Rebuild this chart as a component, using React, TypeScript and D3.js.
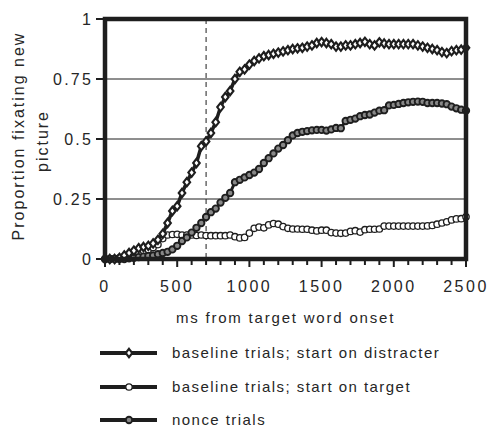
import React from "react";
import * as d3 from "d3";

const STEP = 2500 / 75;
const distracter = [
  0, 0, 0, 0.005, 0.015, 0.025, 0.035, 0.045, 0.05, 0.055, 0.065, 0.08, 0.105, 0.15, 0.2, 0.22,
  0.275, 0.32, 0.36, 0.4, 0.47, 0.49, 0.525, 0.57, 0.633, 0.675, 0.7, 0.75, 0.78, 0.79, 0.81,
  0.825, 0.836, 0.845, 0.85, 0.855, 0.86, 0.865, 0.87, 0.875, 0.878, 0.88, 0.885, 0.89, 0.9,
  0.904, 0.9, 0.895, 0.885, 0.885, 0.89, 0.89, 0.895, 0.9, 0.905, 0.895, 0.89, 0.903, 0.898,
  0.895, 0.895, 0.895, 0.895, 0.895, 0.895, 0.89, 0.885, 0.88, 0.875, 0.87, 0.862, 0.858,
  0.866, 0.87, 0.872, 0.88,
];
const target = [
  0, 0, 0.002, 0.005, 0.01, 0.015, 0.02, 0.028, 0.035, 0.04, 0.048, 0.06, 0.085, 0.1, 0.102,
  0.103, 0.1, 0.1, 0.1, 0.098, 0.1, 0.098, 0.097, 0.097, 0.097, 0.097, 0.1, 0.093, 0.088, 0.09,
  0.108, 0.128, 0.133, 0.13, 0.142, 0.148, 0.145, 0.135, 0.128, 0.125, 0.125, 0.124, 0.124,
  0.12, 0.117, 0.12, 0.12, 0.11, 0.108, 0.107, 0.108, 0.115, 0.118, 0.112, 0.122, 0.124, 0.124,
  0.125, 0.137, 0.137, 0.137, 0.137, 0.137, 0.137, 0.137, 0.137, 0.137, 0.138, 0.14, 0.145,
  0.15, 0.155, 0.163, 0.167, 0.168, 0.176,
];
const nonce = [
  0, 0, 0, 0, 0, 0.003, 0.005, 0.008, 0.01, 0.012, 0.015, 0.02, 0.025, 0.03, 0.04, 0.055, 0.075,
  0.09, 0.11, 0.13, 0.15, 0.175, 0.195, 0.21, 0.235, 0.255, 0.275, 0.32, 0.33, 0.34, 0.35, 0.36,
  0.375, 0.4, 0.42, 0.44, 0.46, 0.475, 0.495, 0.515, 0.525, 0.53, 0.533, 0.536, 0.538, 0.538,
  0.535, 0.54, 0.546, 0.545, 0.575, 0.58, 0.585, 0.595, 0.6, 0.602, 0.61, 0.618, 0.62, 0.64,
  0.642, 0.646, 0.65, 0.653, 0.655, 0.656, 0.655, 0.65, 0.65, 0.65, 0.648, 0.645, 0.635, 0.628,
  0.622, 0.618,
];
const xTicks = [0, 500, 1000, 1500, 2000, 2500];
const yTicks = [0, 0.25, 0.5, 0.75, 1];
const yTickLabels = ["0", "0.25", "0.5", "0.75", "1"];
const gridValues = [0.25, 0.5, 0.75];
const onsetMarker = 700;
const legendLabels = [
  "baseline trials; start on distracter",
  "baseline trials; start on target",
  "nonce trials",
];

const FONT = "'Liberation Sans', Arial, Helvetica, sans-serif";
const INK = "#1e1e1e";
const TXT = "#262626";

type Kind = "diamond" | "open" | "gray";

function Marker({ x, y, kind }: { x: number; y: number; kind: Kind }) {
  if (kind === "diamond") {
    const w = 3.3, h = 4.2;
    return (
      <path
        d={`M${x},${y - h}L${x + w},${y}L${x},${y + h}L${x - w},${y}Z`}
        fill="#fff"
        stroke={INK}
        strokeWidth={2.1}
      />
    );
  }
  return (
    <circle
      cx={x}
      cy={y}
      r={3.2}
      fill={kind === "open" ? "#fff" : "#888"}
      stroke={INK}
      strokeWidth={kind === "open" ? 1.3 : 1.9}
    />
  );
}

export default function App() {
  const W = 489, H = 428;
  const x = d3.scaleLinear().domain([0, 2500]).range([105, 466]);
  const y = d3.scaleLinear().domain([0, 1]).range([259, 19]);
  const minorTicks = d3.range(0, 2501, 100);

  const series: { vals: number[]; kind: Kind; lw: number }[] = [
    { vals: target, kind: "open", lw: 2 },
    { vals: nonce, kind: "gray", lw: 3 },
    { vals: distracter, kind: "diamond", lw: 3.5 },
  ];
  const line = d3
    .line<number>()
    .x((_, i) => x(i * STEP))
    .y((v) => y(v));

  const legendKinds: Kind[] = ["diamond", "open", "gray"];
  const legendY = [353, 387, 420];

  return (
    <svg
      width={W}
      height={H}
      style={{ position: "absolute", left: 0, top: 0, background: "#fff" }}
      fontFamily={FONT}
    >
      {gridValues.map((g) => (
        <line key={g} x1={x(0)} x2={x(2500)} y1={y(g)} y2={y(g)} stroke={INK} strokeWidth={1} />
      ))}
      <line
        x1={x(onsetMarker)}
        x2={x(onsetMarker)}
        y1={y(1)}
        y2={y(0)}
        stroke={INK}
        strokeWidth={1}
        strokeDasharray="5,4"
      />
      {series.map((s, si) => (
        <g key={si}>
          <path d={line(s.vals) || ""} fill="none" stroke={INK} strokeWidth={s.lw} />
          {s.vals.map((v, i) => (
            <Marker key={i} x={x(i * STEP)} y={y(v)} kind={s.kind} />
          ))}
        </g>
      ))}
      <rect
        x={x(0)}
        y={y(1)}
        width={x(2500) - x(0)}
        height={y(0) - y(1)}
        fill="none"
        stroke={INK}
        strokeWidth={4.5}
      />
      {minorTicks.map((t) => (
        <line
          key={t}
          x1={x(t)}
          x2={x(t)}
          y1={y(0)}
          y2={y(0) + (t % 500 === 0 ? 8 : 6)}
          stroke={INK}
          strokeWidth={2}
        />
      ))}
      {xTicks.map((t) => (
        <text key={t} x={x(t)} y={292} textAnchor="middle" fontSize={16} letterSpacing={2.5} fill={TXT}>
          {t}
        </text>
      ))}
      {yTicks.map((t, i) => (
        <g key={t}>
          <line x1={x(0) - 9} x2={x(0)} y1={y(t)} y2={y(t)} stroke={INK} strokeWidth={2} />
          <text x={93} y={y(t) + 6} textAnchor="end" fontSize={16} letterSpacing={2.2} fill={TXT}>
            {yTickLabels[i]}
          </text>
        </g>
      ))}
      <text
        transform="translate(24,136) rotate(-90)"
        textAnchor="middle"
        fontSize={16}
        letterSpacing={2}
        fill={TXT}
      >
        Proportion fixating new
      </text>
      <text
        transform="translate(48,141) rotate(-90)"
        textAnchor="middle"
        fontSize={16}
        letterSpacing={2}
        fill={TXT}
      >
        picture
      </text>
      <text x={285.5} y={323} textAnchor="middle" fontSize={15} letterSpacing={1.8} fill={TXT}>
        ms from target word onset
      </text>
      {legendLabels.map((lab, i) => (
        <g key={lab}>
          <line x1={100} x2={157} y1={legendY[i]} y2={legendY[i]} stroke={INK} strokeWidth={4} />
          <Marker x={129} y={legendY[i]} kind={legendKinds[i]} />
          <text x={172} y={legendY[i] + 5} fontSize={15} letterSpacing={1.45} fill={TXT}>
            {lab}
          </text>
        </g>
      ))}
    </svg>
  );
}
